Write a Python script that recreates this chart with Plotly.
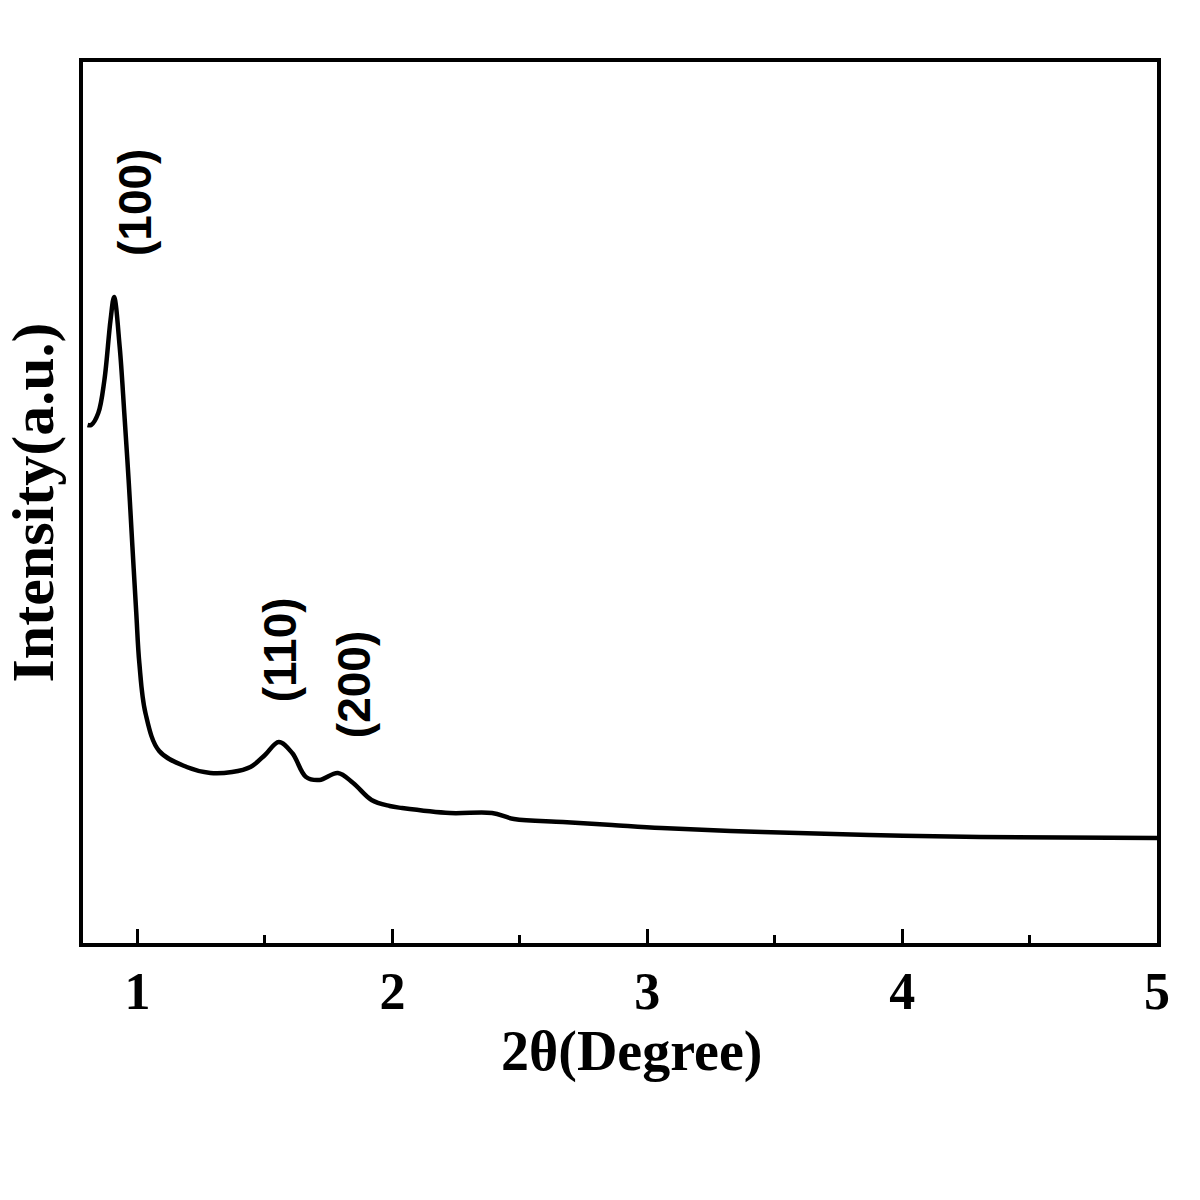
import plotly.graph_objects as go

# 2-theta (degree) and intensity (a.u.)
two_theta = [0.804, 0.818, 0.846, 0.870, 0.894, 0.908, 0.930, 0.948, 0.965, 0.980,
             0.995, 1.007, 1.031, 1.085, 1.193, 1.286, 1.371, 1.443, 1.5, 1.554,
             1.607, 1.661, 1.714, 1.786, 1.846, 1.918, 1.989, 2.038, 2.226, 2.391,
             2.477, 2.669, 2.862, 3.056, 3.452, 3.873, 4.307, 5.0]
intensity = [518, 518, 530, 563, 623, 646, 596, 530, 463, 396,
             330, 280, 230, 192, 176, 170, 171, 176, 188, 201,
             190, 166, 163, 170, 160, 143, 137, 135, 130, 130,
             124, 121, 118, 115, 111, 108, 106, 105]

peak_labels = ["(100)", "(110)", "(200)"]
peak_x = [0.99, 1.56, 1.85]
peak_y = [741, 293, 258]

x_ticks = [1, 2, 3, 4, 5]

fig = go.Figure()
fig.add_trace(go.Scatter(
    x=two_theta, y=intensity, mode="lines",
    line=dict(color="black", width=4.5, shape="spline", smoothing=1.0),
    showlegend=False, hoverinfo="skip"))

for t, px, py in zip(peak_labels, peak_x, peak_y):
    fig.add_annotation(x=px, y=py, text=f"<b>{t}</b>", showarrow=False, textangle=-90,
                       xanchor="center", yanchor="middle",
                       font=dict(family="Liberation Sans", size=46, color="black"))

serif = "Liberation Serif"
fig.add_annotation(x=0.511, y=-0.1237, xref="paper", yref="paper",
                   text="<b>2θ(Degree)</b>", showarrow=False,
                   xanchor="center", yanchor="middle",
                   font=dict(family=serif, size=56, color="black"))

fig.update_layout(
    width=1200, height=1200,
    margin=dict(l=83, r=43, t=62, b=257),
    paper_bgcolor="white", plot_bgcolor="white",
    xaxis=dict(
        range=[0.786, 5.0], tickvals=x_ticks, ticktext=[f"<b>{v}</b>" for v in x_ticks],
        ticks="inside", ticklen=14, tickwidth=3, tickcolor="black",
        minor=dict(ticks="inside", ticklen=8, tickwidth=3, tickcolor="black",
                   tick0=1.5, dtick=1),
        showline=True, linewidth=4, linecolor="black", mirror=True,
        showgrid=False, zeroline=False,
        tickfont=dict(family=serif, size=52, color="black"),
    ),
    yaxis=dict(
        range=[0, 881], showticklabels=False, ticks="",
        showline=True, linewidth=4, linecolor="black", mirror=True,
        showgrid=False, zeroline=False,
        title=dict(text="<b>Intensity(a.u.)</b>", font=dict(family=serif, size=60, color="black"),
                   standoff=10),
    ),
)

fig.write_html("out.html")
